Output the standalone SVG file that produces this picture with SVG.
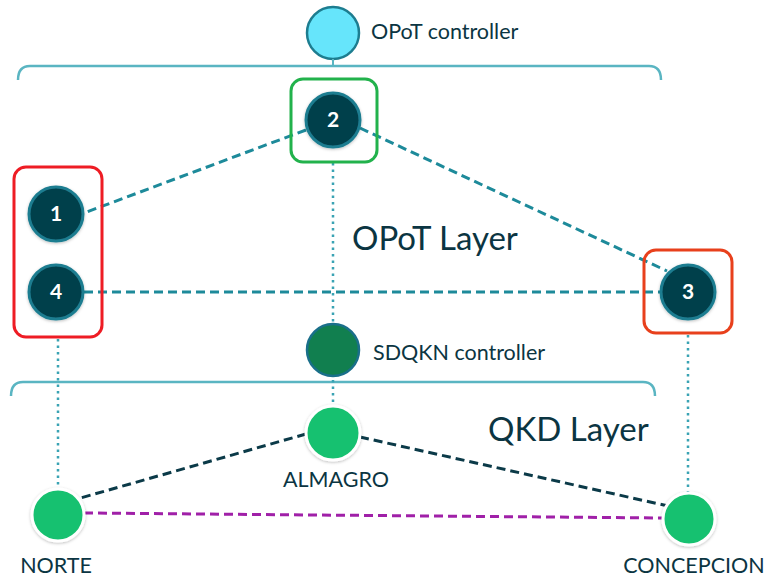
<svg xmlns="http://www.w3.org/2000/svg" width="765" height="580" viewBox="0 0 765 580">
<style>
text{font-family:Lato,"Open Sans","Liberation Sans",sans-serif;fill:#0b3542}
.lbl{font-size:21.5px}
.big{font-size:33px}
.num{font-size:21px;fill:#fff;font-weight:bold;text-anchor:middle}
.opot{fill:#053f4b;stroke:#1d7d90;stroke-width:3}
.qkd{fill:#18c16f;stroke:#fff;stroke-width:3}
.brace{fill:none;stroke:#5ab5c2;stroke-width:2.5}
.teal{stroke:#1d8a9a;stroke-width:3;stroke-dasharray:9 5;fill:none}
.dark{stroke:#0b3a48;stroke-width:3;stroke-dasharray:9 5;fill:none}
.purple{stroke:#a020a8;stroke-width:3;stroke-dasharray:9 5;fill:none}
.dot{stroke:#3aa3b4;stroke-width:2.5;stroke-dasharray:2.5 4;fill:none}
</style>
<defs>
<filter id="sh" x="-30%" y="-30%" width="160%" height="160%"><feDropShadow dx="0" dy="1" stdDeviation="1.5" flood-color="#000" flood-opacity="0.25"/></filter>
</defs>
<g id="braces">
<path class="brace" d="M18,80 Q18,66 30,66 L649,66 Q661,66 661,80"/>
<path class="brace" d="M11,396 Q11,382 23,382 L643,382 Q655,382 655,396"/>
</g>
<g id="connectors">
<line class="dot" x1="333" y1="163" x2="333" y2="324"/>
<line class="dot" x1="333" y1="380" x2="333" y2="407"/>
<line class="dot" x1="58" y1="339" x2="58" y2="489"/>
<line class="dot" x1="688" y1="335" x2="688" y2="492"/>
<line class="teal" x1="306" y1="130" x2="84" y2="213"/>
<line class="teal" x1="360" y1="128" x2="667" y2="271"/>
<line class="teal" x1="84" y1="292" x2="660" y2="292"/>
<line class="dark" x1="306" y1="434" x2="77" y2="499"/>
<line class="dark" x1="360" y1="437" x2="668" y2="506"/>
<line class="purple" x1="84" y1="513" x2="663" y2="518"/>
</g>
<g id="opot-controller">
<circle cx="333" cy="33" r="26" fill="#66e5fb" stroke="#1d7d90" stroke-width="2.5"/>
<line x1="333" y1="59" x2="333" y2="66" stroke="#5ab5c2" stroke-width="2"/>
<text class="lbl" x="371" y="39">OPoT controller</text>
</g>
<g id="node2">
<rect x="291" y="79" width="86" height="83" rx="12" fill="none" stroke="#22b24c" stroke-width="3"/>
<circle class="opot" cx="333" cy="120" r="27" filter="url(#sh)"/>
<text class="num" x="333" y="127">2</text>
</g>
<g id="group14">
<rect x="14" y="167" width="88" height="170" rx="12" fill="none" stroke="#ee1c24" stroke-width="3"/>
</g>
<g id="node1">
<circle class="opot" cx="56" cy="214" r="27" filter="url(#sh)"/>
<text class="num" x="56" y="221">1</text>
</g>
<g id="node4">
<circle class="opot" cx="56" cy="292" r="27" filter="url(#sh)"/>
<text class="num" x="56" y="299">4</text>
</g>
<g id="node3">
<rect x="644" y="250" width="88" height="83" rx="12" fill="none" stroke="#e8401c" stroke-width="3"/>
<circle class="opot" cx="688" cy="292" r="27" filter="url(#sh)"/>
<text class="num" x="688" y="299">3</text>
</g>
<g id="opot-layer">
<text class="big" x="352" y="250">OPoT Layer</text>
</g>
<g id="sdqkn-controller">
<circle cx="333" cy="350" r="26" fill="#117f4f" stroke="#1a6f8a" stroke-width="2.5"/>
<text class="lbl" x="373" y="360">SDQKN controller</text>
</g>
<g id="qkd-layer">
<text class="big" x="488" y="441">QKD Layer</text>
</g>
<g id="almagro">
<circle class="qkd" cx="333" cy="433" r="27" filter="url(#sh)"/>
<text class="lbl" x="336" y="487" text-anchor="middle">ALMAGRO</text>
</g>
<g id="norte">
<circle class="qkd" cx="58" cy="515" r="26" filter="url(#sh)"/>
<text class="lbl" x="56" y="573" text-anchor="middle">NORTE</text>
</g>
<g id="concepcion">
<circle class="qkd" cx="689" cy="519" r="26" filter="url(#sh)"/>
<text class="lbl" x="694" y="573" text-anchor="middle" font-size="21px">CONCEPCION</text>
</g>
</svg>
